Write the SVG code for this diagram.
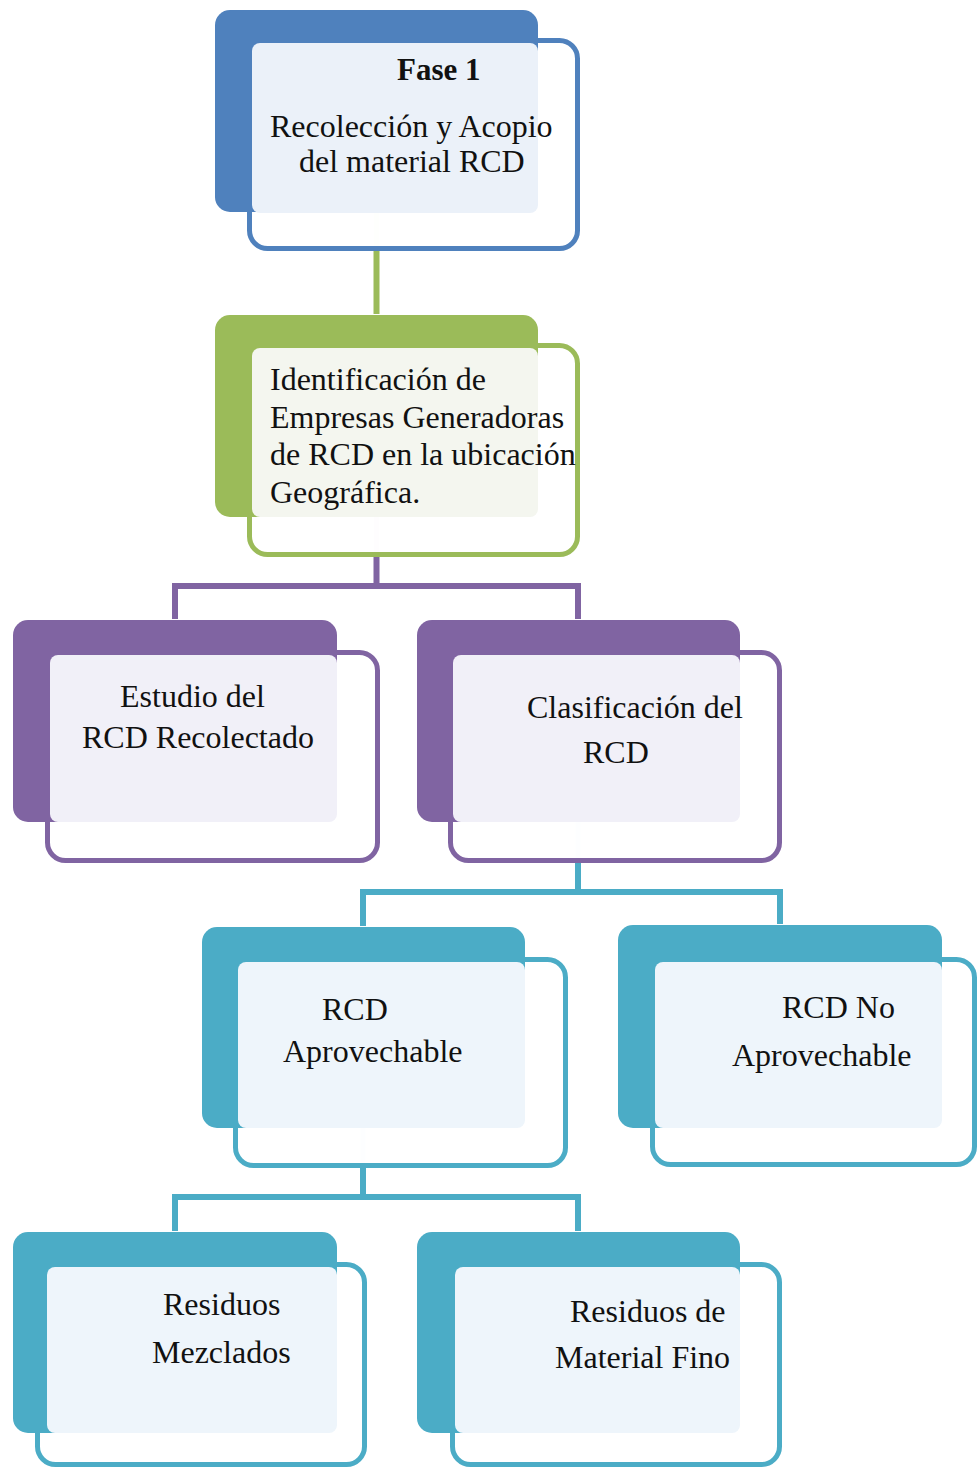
<svg xmlns="http://www.w3.org/2000/svg" width="977" height="1467" viewBox="0 0 977 1467">
<style>
.t{font-family:"Liberation Serif","Times New Roman",serif;font-size:32px;fill:#111;}
.b{font-weight:bold;font-size:31px;}
.out{fill:#fff;fill-opacity:0.9;stroke-width:5;}
.lb{fill:#EBF1F9;}
.lg{fill:#F4F6EF;}
.lp{fill:#F1F0F8;}
.lc{fill:#EEF5FB;}
.c{fill:none;stroke-width:6;}
.fc{fill:none;stroke-width:5;stroke-opacity:0.12;}
</style>
<rect width="977" height="1467" fill="#fff"/>
<g id="connectors">
<line class="fc" x1="376.5" y1="150" x2="376.5" y2="251" stroke="#9BBB59"/>
<line class="c" x1="376.5" y1="251" x2="376.5" y2="314" stroke="#9BBB59"/>
<line class="fc" x1="376.5" y1="450" x2="376.5" y2="557" stroke="#8064A2"/>
<polyline class="c" points="376.5,557 376.5,586 175,586 175,619" stroke="#8064A2"/>
<polyline class="c" points="376.5,586 578,586 578,619" stroke="#8064A2"/>
<line class="fc" x1="578" y1="760" x2="578" y2="863" stroke="#4BACC6"/>
<polyline class="c" points="578,863 578,892 363,892 363,926" stroke="#4BACC6"/>
<polyline class="c" points="578,892 780,892 780,924" stroke="#4BACC6"/>
<line class="fc" x1="363" y1="1060" x2="363" y2="1168" stroke="#4BACC6"/>
<polyline class="c" points="363,1168 363,1197 175,1197 175,1231" stroke="#4BACC6"/>
<polyline class="c" points="363,1197 578,1197 578,1231" stroke="#4BACC6"/>
</g>
<g id="n1">
<rect class="out" x="249.5" y="40.5" width="328" height="208" rx="18" stroke="#4F81BD"/>
<rect x="215" y="10" width="323" height="202" rx="15" fill="#4F81BD"/>
<rect class="lb" x="252" y="43" width="286" height="170" rx="8"/>
<text class="t b" x="397" y="80">Fase 1</text>
<text class="t" x="270" y="137">Recolección y Acopio</text>
<text class="t" x="299" y="172">del material RCD</text>
</g>
<g id="n2">
<rect class="out" x="249.5" y="345.5" width="328" height="209" rx="18" stroke="#9BBB59"/>
<rect x="215" y="315" width="323" height="202" rx="15" fill="#9BBB59"/>
<rect class="lg" x="252" y="348" width="286" height="169" rx="8"/>
<text class="t" x="270" y="390">Identificación de</text>
<text class="t" x="270" y="428">Empresas Generadoras</text>
<text class="t" x="270" y="465">de RCD en la ubicación</text>
<text class="t" x="270" y="503">Geográfica.</text>
</g>
<g id="n3">
<rect class="out" x="47.5" y="652.5" width="330" height="208" rx="18" stroke="#8064A2"/>
<rect x="13" y="620" width="324" height="202" rx="15" fill="#8064A2"/>
<rect class="lp" x="50" y="655" width="287" height="167" rx="8"/>
<text class="t" x="120" y="707">Estudio del</text>
<text class="t" x="82" y="748">RCD Recolectado</text>
</g>
<g id="n4">
<rect class="out" x="450.5" y="652.5" width="329" height="208" rx="18" stroke="#8064A2"/>
<rect x="417" y="620" width="323" height="202" rx="15" fill="#8064A2"/>
<rect class="lp" x="453" y="655" width="287" height="167" rx="8"/>
<text class="t" x="527" y="718">Clasificación del</text>
<text class="t" x="583" y="763">RCD</text>
</g>
<g id="n5">
<rect class="out" x="235.5" y="959.5" width="330" height="206" rx="18" stroke="#4BACC6"/>
<rect x="202" y="927" width="323" height="201" rx="15" fill="#4BACC6"/>
<rect class="lc" x="238" y="962" width="287" height="166" rx="8"/>
<text class="t" x="322" y="1020">RCD</text>
<text class="t" x="283" y="1062">Aprovechable</text>
</g>
<g id="n6">
<rect class="out" x="652.5" y="959.5" width="322" height="205" rx="18" stroke="#4BACC6"/>
<rect x="618" y="925" width="324" height="203" rx="15" fill="#4BACC6"/>
<rect class="lc" x="655" y="962" width="287" height="166" rx="8"/>
<text class="t" x="782" y="1018">RCD No</text>
<text class="t" x="732" y="1066">Aprovechable</text>
</g>
<g id="n7">
<rect class="out" x="37.5" y="1264.5" width="327" height="200" rx="18" stroke="#4BACC6"/>
<rect x="13" y="1232" width="324" height="201" rx="15" fill="#4BACC6"/>
<rect class="lc" x="47" y="1267" width="290" height="166" rx="8"/>
<text class="t" x="163" y="1315">Residuos</text>
<text class="t" x="152" y="1363">Mezclados</text>
</g>
<g id="n8">
<rect class="out" x="452.5" y="1264.5" width="327" height="200" rx="18" stroke="#4BACC6"/>
<rect x="417" y="1232" width="323" height="201" rx="15" fill="#4BACC6"/>
<rect class="lc" x="455" y="1267" width="285" height="166" rx="8"/>
<text class="t" x="570" y="1322">Residuos de</text>
<text class="t" x="555" y="1368">Material Fino</text>
</g>
</svg>
